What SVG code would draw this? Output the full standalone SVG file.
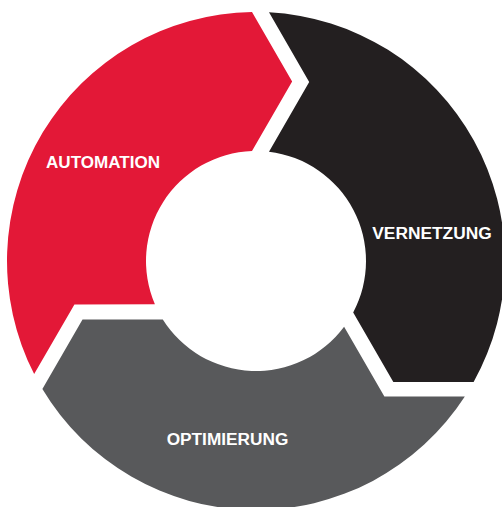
<svg xmlns="http://www.w3.org/2000/svg" width="502" height="507" viewBox="0 0 502 507">
<style>
.lbl{font-family:"Liberation Sans",Arial,sans-serif;font-weight:700;font-size:16px;fill:#ffffff}
</style>
<defs>
<path id="seg" d="M252,12.03 L292.14,81.55 L252,151.07 A110,110 0 0 0 154.91,304.36 L74.43,304.41 L34.16,374.07 A249,249 0 0 1 252,12.03 Z"/>
</defs>
<rect width="502" height="507" fill="#ffffff"/>
<g id="automation">
<use href="#seg" fill="#e31837"/>
<text class="lbl" x="46" y="168.3" textLength="114" lengthAdjust="spacingAndGlyphs">AUTOMATION</text>
</g>
<g id="vernetzung">
<use href="#seg" fill="#231f20" transform="rotate(120 256 261)"/>
<text class="lbl" x="372.3" y="239.3" textLength="119.4" lengthAdjust="spacingAndGlyphs">VERNETZUNG</text>
</g>
<g id="optimierung">
<use href="#seg" fill="#58595b" transform="rotate(240 256 261)"/>
<text class="lbl" x="166.7" y="445" textLength="121.6" lengthAdjust="spacingAndGlyphs">OPTIMIERUNG</text>
</g>
<g id="connectors"/>
</svg>
